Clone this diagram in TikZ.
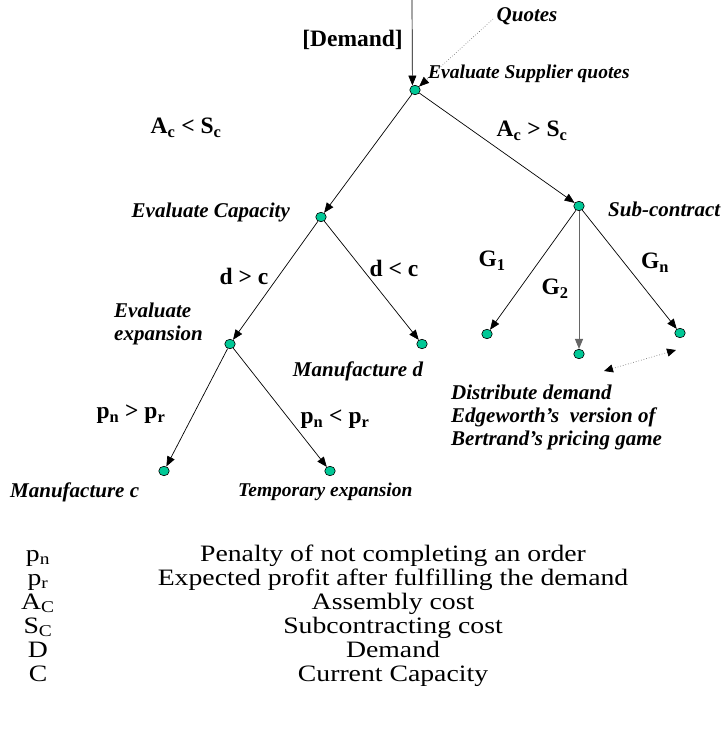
\documentclass[tikz,border=0pt]{standalone}
\usepackage{fontspec}
\setmainfont{Liberation Serif}
\usetikzlibrary{arrows.meta,shapes.geometric}
\definecolor{dotgreen}{RGB}{0,200,150}
\newcommand{\legtxt}[1]{\scalebox{1.18}[1]{#1}}
\tikzset{
  dot/.style={ellipse,draw=black,line width=0.6pt,fill=dotgreen,minimum width=10.5pt,minimum height=9.5pt,inner sep=0pt},
  arr/.style={line width=0.7pt,-{Triangle[length=10pt,width=8pt]}},
  darr/.style={line width=0.7pt,dotted,gray,{Triangle[length=9pt,width=8pt,black]}-{Triangle[length=9pt,width=8pt,black]}},
  ital/.style={font=\fontsize{21}{23}\selectfont\bfseries\itshape,inner sep=0pt},
  itals/.style={font=\fontsize{19.5}{23}\selectfont\bfseries\itshape,inner sep=0pt},
  cond/.style={font=\fontsize{23.5}{26}\selectfont\bfseries,inner sep=0pt},
  leg/.style={font=\fontsize{23.5}{26}\selectfont,inner sep=0pt}
}
\begin{document}
\begin{tikzpicture}[x=1pt,y=-1pt]
\useasboundingbox (0,0) rectangle (725,736);
% dots
\node[dot] (root) at (415,90) {};
\node[dot] (cap) at (321,217) {};
\node[dot] (sub) at (579,206) {};
\node[dot] (exp) at (230,344) {};
\node[dot] (mfd) at (422,344) {};
\node[dot] (mfc) at (164,471) {};
\node[dot] (tmp) at (330,471) {};
\node[dot] (g1) at (487,334) {};
\node[dot] (g2) at (579,354) {};
\node[dot] (gn) at (680,333) {};
% incoming
\coordinate (dtop) at (412,0);
\coordinate (qstart) at (493,19);
\draw[arr] (dtop) -- (root.120);
\draw[line width=0.6pt,dotted,gray!70!black,-{Triangle[length=10pt,width=8pt,black]}] (qstart) -- (root.40);
% tree edges
\draw[arr] (root) -- (cap);
\draw[arr] (root) -- (sub);
\draw[arr] (cap) -- (exp);
\draw[arr] (cap) -- (mfd);
\draw[arr] (exp) -- (mfc);
\draw[arr] (exp) -- (tmp);
\draw[arr] (sub) -- (g1);
\draw[arr,draw=gray!80!black,line width=1pt] (sub) -- (g2);
\draw[arr] (sub) -- (gn);
% dotted double arrow
\coordinate (da1) at (604,371);
\coordinate (da2) at (676,350);
\draw[darr] (da1) -- (da2);
% labels
\node[cond,anchor=east] (ldem) at (403,40) {[Demand]};
\node[ital] (lquo) at (527,16) {Quotes};
\node[itals,anchor=west] (lesq) at (428,74) {Evaluate Supplier quotes};
\node[cond] (lacl) at (186,128) {A\textsubscript{c} < S\textsubscript{c}};
\node[cond] (lacg) at (532,131) {A\textsubscript{c} > S\textsubscript{c}};
\node[ital,anchor=east] (lcap) at (290,212) {Evaluate Capacity};
\node[ital,anchor=west] (lsub) at (608,209) {Sub-contract};
\node[cond] (lg1) at (492,261) {G\textsubscript{1}};
\node[cond] (lg2) at (555,289) {G\textsubscript{2}};
\node[cond] (lgn) at (655,263) {G\textsubscript{n}};
\node[cond] (ldg) at (244,276) {d > c};
\node[cond] (ldl) at (394,268) {d < c};
\node[ital,align=left,anchor=west] (lexp) at (114,324) {Evaluate\\expansion};
\node[ital] (lmfd) at (358,371) {Manufacture d};
\node[cond] (lpg) at (131,414) {p\textsubscript{n} > p\textsubscript{r}};
\node[cond] (lpl) at (335,419) {p\textsubscript{n} < p\textsubscript{r}};
\node[ital,anchor=west] (lmfc) at (10,492) {Manufacture c};
\node[itals,anchor=west] (ltmp) at (238,492) {Temporary expansion};
\node[ital,align=left,anchor=west] (ldist) at (451,417) {Distribute demand\\Edgeworth’s\ \ version of\\Bertrand’s pricing game};
% legend
\node[leg,anchor=base] (s1) at (38,561) {\legtxt{p\textsubscript{n}}};
\node[leg,anchor=base] (s2) at (38,585) {\legtxt{p\textsubscript{r}}};
\node[leg,anchor=base] (s3) at (38,609) {\legtxt{A\textsubscript{C}}};
\node[leg,anchor=base] (s4) at (38,633) {\legtxt{S\textsubscript{C}}};
\node[leg,anchor=base] (s5) at (38,657) {\legtxt{D}};
\node[leg,anchor=base] (s6) at (38,681) {\legtxt{C}};
\node[leg,anchor=base] (t1) at (393,561) {\legtxt{Penalty of not completing an order}};
\node[leg,anchor=base] (t2) at (393,585) {\legtxt{Expected profit after fulfilling the demand}};
\node[leg,anchor=base] (t3) at (393,609) {\legtxt{Assembly cost}};
\node[leg,anchor=base] (t4) at (393,633) {\legtxt{Subcontracting cost}};
\node[leg,anchor=base] (t5) at (393,657) {\legtxt{Demand}};
\node[leg,anchor=base] (t6) at (393,681) {\legtxt{Current Capacity}};
\end{tikzpicture}
\end{document}
